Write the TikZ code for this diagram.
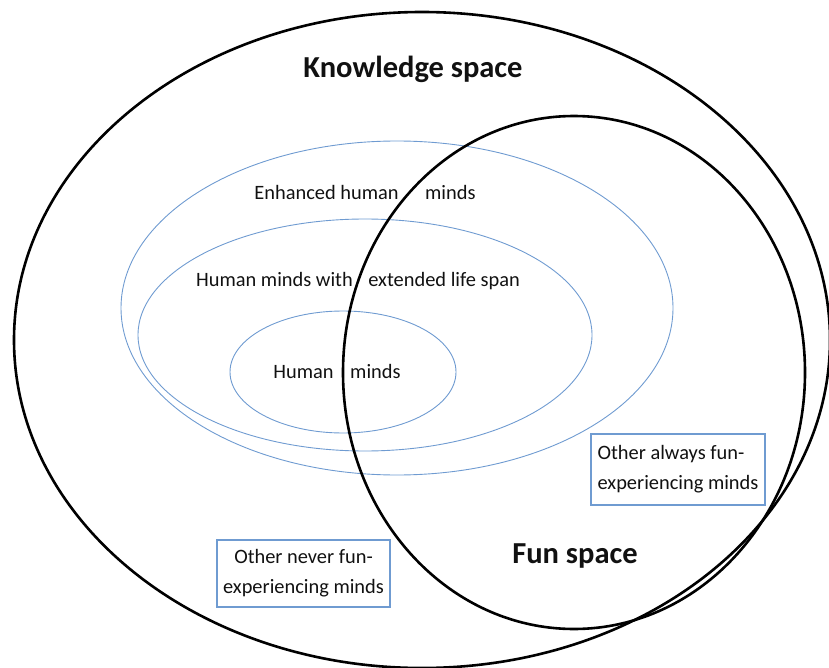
\documentclass[tikz,border=0pt]{standalone}
\usepackage{fontspec}
\setmainfont{Carlito}
\usepackage{xcolor}
\usepackage{tikz}
\definecolor{setblue}{HTML}{6F9BD1}
\definecolor{ink}{HTML}{111111}
\tikzset{
  space/.style={draw=black, line width=2.6pt},
  mindset/.style={draw=setblue, line width=0.9pt},
  spacelabel/.style={text=ink, font=\fontsize{30.5}{36}\selectfont\bfseries},
  mindlabel/.style={text=ink, font=\fontsize{20.4}{30}\selectfont, inner sep=0pt},
  otherbox/.style={draw=setblue, line width=1.1pt, fill=white, text=ink, font=\fontsize{20.4}{30}\selectfont, inner sep=0pt},
}
\begin{document}
\begin{tikzpicture}[x=1pt, y=-1pt]%
\useasboundingbox (0,0) rectangle (829,668);%
\clip (0,0) rectangle (829,668);%
% the two spaces
\draw[space] (422,340) ellipse (408 and 328);%
% nested minds
\draw[mindset] (397,308) ellipse (276 and 167);%
\draw[mindset] (365,335) ellipse (227 and 116);%
\draw[mindset] (343,372) ellipse (113 and 61);%
\draw[space] (574,372.5) ellipse (231 and 256.5);%
% labels
\node[spacelabel] (knowledge) at (413,69) {Knowledge space};%
\node[spacelabel] (fun) at (575,556) {Fun space};%
\node[mindlabel] (enhanced) at (365,192) {Enhanced human\hspace{22pt} minds};%
\node[mindlabel] (extended) at (358,281) {Human minds with\hspace{11pt} extended life span};%
\node[mindlabel] (human) at (337,371) {Human\hspace{12pt} minds};%
\node[otherbox, minimum width=174pt, minimum height=71pt, align=left] (always) at (678,469.5) {Other always fun-\\experiencing minds};%
\node[otherbox, minimum width=173pt, minimum height=67pt, align=center] (never) at (303.5,573.5) {Other never fun-\\experiencing minds};%
\end{tikzpicture}
\end{document}
